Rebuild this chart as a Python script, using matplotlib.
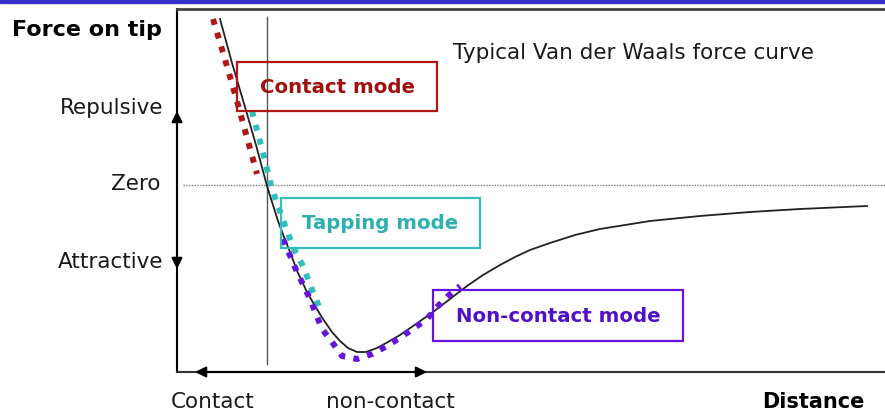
import matplotlib
matplotlib.use("Agg")
import matplotlib.pyplot as plt
from matplotlib.patches import Rectangle

# Van der Waals force curve (distance, force)
curve_x = [43, 55, 68, 79, 90, 101, 107, 113, 121, 130, 138, 146, 155, 163, 171, 180, 189,
           200, 211, 223, 239, 256, 273, 290, 306, 323, 338, 353, 373, 398, 423, 448, 473,
           523, 573, 623, 690]
curve_y = [166, 122, 78, 40, -1, -36, -52, -67, -88, -107, -121, -134, -147, -156, -163, -167, -167,
           -163, -157, -150, -139, -127, -114, -101, -90, -80, -72, -65, -58, -50, -44, -40, -36,
           -31, -27, -24, -21]

# operating regions of the three modes
contact_x = [36, 47, 58, 69, 80]
contact_y = [166, 129, 91, 51, 11]
tapping_x = [75, 85, 95, 105, 116, 126, 136, 143]
tapping_y = [74, 36, -4, -32, -62, -81, -107, -124]
noncontact_x = [106, 120, 133, 145, 155, 165, 180, 195, 210, 221, 236, 250, 260, 271, 283]
noncontact_y = [-54, -87, -114, -144, -157, -171, -174, -169, -161, -154, -144, -134, -122, -111, -101]

RED = "#b01818"
CYAN = "#33bebe"
PURPLE = "#6414dc"

W, H = 885, 414
fig = plt.figure(figsize=(W / 100, H / 100), dpi=100)
fig.patch.set_facecolor("white")

def fx(x):
    return x / W

def fy(y):
    return 1 - y / H

# blue strip at the top
fig.patches.append(Rectangle((0, fy(4)), 1, 4 / H, transform=fig.transFigure,
                             color="#3333cc", zorder=0))

ax = fig.add_axes([fx(177), fy(373), fx(885 - 177), (373 - 10) / H])
ax.set_xlim(0, 708)
ax.set_ylim(-187, 176)
ax.set_xticks([])
ax.set_yticks([])
ax.spines["right"].set_visible(False)
ax.spines["top"].set_color("#444444")
ax.spines["top"].set_linewidth(2)
ax.spines["left"].set_linewidth(1.5)
ax.spines["bottom"].set_color("#333333")
ax.spines["bottom"].set_linewidth(1.5)

# zero line and contact boundary
ax.plot([6, 708], [0, 0], color="#777777", lw=1, ls=(0, (1, 1)))
ax.plot([90, 90], [168, -179], color="#555555", lw=1)

ax.plot(curve_x, curve_y, color="#222222", lw=1.3, zorder=3,
        solid_joinstyle="round")

dot = dict(lw=4.3, dashes=(1, 1.4), solid_capstyle="butt", zorder=4)
ax.plot(contact_x, contact_y, color=RED, **dot)
ax.plot(tapping_x, tapping_y, color=CYAN, **dot)
ax.plot(noncontact_x, noncontact_y, color=PURPLE, **dot)

# mode boxes
boxes = [((60, 74), 200, 49, RED, "Contact mode", "#a01010"),
         ((104, -63), 199, 50, CYAN, "Tapping mode", "#2eb0b0"),
         ((256, -156), 250, 51, PURPLE, "Non-contact mode", "#5010c8")]
for (bx, by), bw, bh, ec, label, tc in boxes:
    ax.add_patch(Rectangle((bx, by), bw, bh, fill=False, ec=ec, lw=1.6, zorder=5))
    ax.text(bx + bw / 2, by + bh / 2, label, color=tc, fontsize=14.2,
            fontweight="bold", ha="center", va="center", zorder=6)

ax.text(276, 133, "Typical Van der Waals force curve", fontsize=15.5,
        color="#1a1a1a", ha="left", va="center")

# double arrows on the axes
arr = dict(arrowstyle="<|-|>", color="black", lw=1.5, mutation_scale=16,
           shrinkA=0, shrinkB=0)
ax.annotate("", xy=(0, 74), xytext=(0, -84), arrowprops=arr,
            annotation_clip=False)
ax.annotate("", xy=(18, -187), xytext=(250, -187), arrowprops=arr,
            annotation_clip=False)

# labels outside the axes
fs = 15.5
fig.text(fx(12), fy(30), "Force on tip", fontsize=16, fontweight="bold",
         ha="left", va="center")
fig.text(fx(163), fy(108), "Repulsive", fontsize=fs, color="#1a1a1a", ha="right", va="center")
fig.text(fx(160), fy(184), "Zero", fontsize=fs, color="#1a1a1a", ha="right", va="center")
fig.text(fx(163), fy(262), "Attractive", fontsize=fs, color="#1a1a1a", ha="right", va="center")
fig.text(fx(213), fy(402), "Contact", fontsize=fs, color="#1a1a1a", ha="center", va="center")
fig.text(fx(390), fy(402), "non-contact", fontsize=fs, color="#1a1a1a", ha="center", va="center")
fig.text(fx(865), fy(402), "Distance", fontsize=15, fontweight="bold",
         ha="right", va="center")

fig.savefig("out.png", dpi=100)
